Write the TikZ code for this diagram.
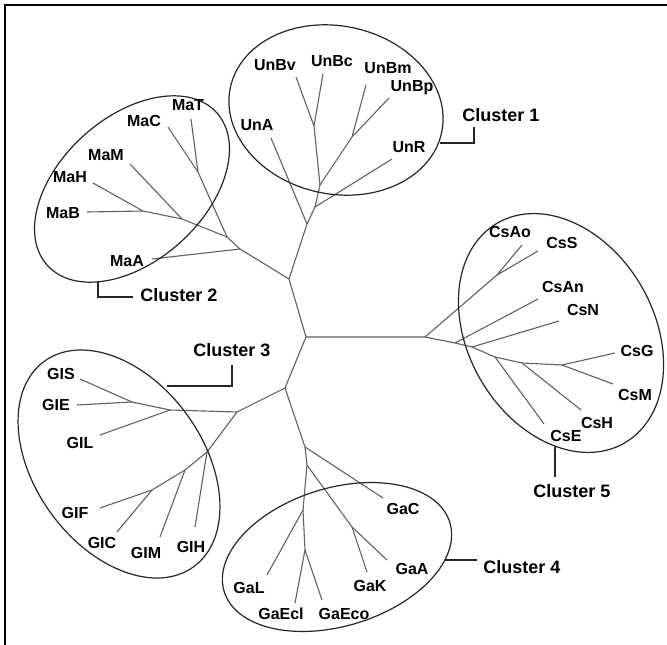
\documentclass[tikz,border=0pt]{standalone}
\usepackage{fontspec}
\setmainfont{Liberation Sans}
\begin{document}
\begin{tikzpicture}[x=1pt,y=-1pt,
  br/.style={draw=black!62, line width=1.1pt},
  ell/.style={draw=black!85, line width=1.2pt},
  con/.style={draw=black!85, line width=1.2pt},
  lab/.style={font=\bfseries\fontsize{16}{16}\selectfont, inner sep=0pt},
  clab/.style={font=\bfseries\fontsize{18}{18}\selectfont, inner sep=0pt}]
\useasboundingbox (0,0) rectangle (667,645);
\fill[white] (0,0) rectangle (667,645);
\draw[line width=2pt] (5,645) -- (5,5) -- (667,5);

% ---------- core ----------
\coordinate (c0) at (306,337);
\coordinate (jU) at (289,279);
\coordinate (jL) at (285,388);
% ---------- Un ----------
\coordinate (u1) at (307,224);
\coordinate (u2) at (315,207);
\coordinate (u3) at (320,185);
\coordinate (u4) at (314,126);
\coordinate (u5) at (352,137);
\coordinate (tUnBv) at (296,77);
\coordinate (tUnBc) at (323,74);
\coordinate (tUnBm) at (366,85);
\coordinate (tUnBp) at (389,98);
\coordinate (tUnA) at (271,138);
\coordinate (tUnR) at (392,159);
% ---------- Ma ----------
\coordinate (m4) at (240,249);
\coordinate (m3) at (227,237);
\coordinate (m2) at (182,219);
\coordinate (m1) at (143,211);
\coordinate (m5) at (198,172);
\coordinate (tMaT) at (191,119);
\coordinate (tMaC) at (168,127);
\coordinate (tMaM) at (130,164);
\coordinate (tMaH) at (93,183);
\coordinate (tMaB) at (87,212);
\coordinate (tMaA) at (152,259);
% ---------- Cs ----------
\coordinate (s0) at (425,337);
\coordinate (s1) at (497,275);
\coordinate (s2) at (455,343);
\coordinate (s3) at (472,347);
\coordinate (s4) at (495,357);
\coordinate (s5) at (522,363);
\coordinate (s6) at (562,365);
\coordinate (tCsAo) at (522,245);
\coordinate (tCsS) at (538,251);
\coordinate (tCsAn) at (538,299);
\coordinate (tCsN) at (559,321);
\coordinate (tCsE) at (544,424);
\coordinate (tCsH) at (581,410);
\coordinate (tCsG) at (615,353);
\coordinate (tCsM) at (613,384);
% ---------- Gl ----------
\coordinate (g0) at (237,412);
\coordinate (g1) at (170,410);
\coordinate (g2) at (132,402);
\coordinate (g3) at (207,452);
\coordinate (g4) at (185,470);
\coordinate (g5) at (152,490);
\coordinate (tGIS) at (80,379);
\coordinate (tGIE) at (77,405);
\coordinate (tGIL) at (100,435);
\coordinate (tGIF) at (100,508);
\coordinate (tGIC) at (117,532);
\coordinate (tGIM) at (160,537);
\coordinate (tGIH) at (195,527);
% ---------- Ga ----------
\coordinate (a1) at (305,447);
\coordinate (a2) at (307,465);
\coordinate (a3) at (303,510);
\coordinate (a4) at (305,550);
\coordinate (a5) at (352,527);
\coordinate (tGaC) at (383,498);
\coordinate (tGaK) at (367,572);
\coordinate (tGaA) at (387,560);
\coordinate (tGaL) at (267,575);
\coordinate (tGaEcl) at (295,603);
\coordinate (tGaEco) at (322,600);

% ---------- branches ----------
\draw[br] (jU) -- (c0) -- (s0);
\draw[br] (c0) -- (jL);
% Un
\draw[br] (jU) -- (u1) -- (u2) -- (u3) -- (u4) -- (tUnBv);
\draw[br] (u4) -- (tUnBc);
\draw[br] (u3) -- (u5) -- (tUnBm);
\draw[br] (u5) -- (tUnBp);
\draw[br] (u2) -- (tUnR);
\draw[br] (u1) -- (tUnA);
% Ma
\draw[br] (jU) -- (m4) -- (m3) -- (m2) -- (m1) -- (tMaB);
\draw[br] (m1) -- (tMaH);
\draw[br] (m2) -- (tMaM);
\draw[br] (m3) -- (m5) -- (tMaT);
\draw[br] (m5) -- (tMaC);
\draw[br] (m4) -- (tMaA);
% Cs
\draw[br] (s0) -- (s1) -- (tCsAo);
\draw[br] (s1) -- (tCsS);
\draw[br] (s0) -- (s2) -- (s3) -- (s4) -- (s5) -- (s6) -- (tCsG);
\draw[br] (s6) -- (tCsM);
\draw[br] (s2) -- (tCsAn);
\draw[br] (s3) -- (tCsN);
\draw[br] (s4) -- (tCsE);
\draw[br] (s5) -- (tCsH);
% Gl
\draw[br] (jL) -- (g0) -- (g1) -- (g2) -- (tGIE);
\draw[br] (g2) -- (tGIS);
\draw[br] (g1) -- (tGIL);
\draw[br] (g0) -- (g3) -- (g4) -- (g5) -- (tGIF);
\draw[br] (g5) -- (tGIC);
\draw[br] (g4) -- (tGIM);
\draw[br] (g3) -- (tGIH);
% Ga
\draw[br] (jL) -- (a1) -- (a2) -- (a3) -- (a4) -- (tGaEcl);
\draw[br] (a4) -- (tGaEco);
\draw[br] (a3) -- (tGaL);
\draw[br] (a1) -- (tGaC);
\draw[br] (a2) -- (a5) -- (tGaK);
\draw[br] (a5) -- (tGaA);

% ---------- ellipses ----------
\draw[ell, rotate around={-12:(336,110)}] (336,110) ellipse [x radius=108, y radius=84];
\draw[ell, rotate around={42:(132,189)}] (132,189) ellipse [x radius=114, y radius=72];
\draw[ell, rotate around={-54:(119,464)}] (119,464) ellipse [x radius=127, y radius=84];
\draw[ell, rotate around={17:(337,557)}] (337,557) ellipse [x radius=118, y radius=69];
\draw[ell, rotate around={-60:(561,333)}] (561,333) ellipse [x radius=127, y radius=93];

% ---------- leaf labels ----------
\node[lab] (UnBv) at (275,65) {UnBv};
\node[lab] (UnBc) at (332,61) {UnBc};
\node[lab] (UnBm) at (388,68) {UnBm};
\node[lab] (UnBp) at (412,88) {UnBp};
\node[lab] (UnA) at (257,125) {UnA};
\node[lab] (UnR) at (409,147) {UnR};
\node[lab] (MaT) at (188,105) {MaT};
\node[lab] (MaC) at (144,121) {MaC};
\node[lab] (MaM) at (106,155) {MaM};
\node[lab] (MaH) at (70,177) {MaH};
\node[lab] (MaB) at (63,213) {MaB};
\node[lab] (MaA) at (127,261) {MaA};
\node[lab] (CsAo) at (510,232) {CsAo};
\node[lab] (CsS) at (562,243) {CsS};
\node[lab] (CsAn) at (563,287) {CsAn};
\node[lab] (CsN) at (583,310) {CsN};
\node[lab] (CsG) at (637,351) {CsG};
\node[lab] (CsM) at (635,395) {CsM};
\node[lab] (CsH) at (597,423) {CsH};
\node[lab] (CsE) at (566,436) {CsE};
\node[lab] (GIS) at (61,374) {GIS};
\node[lab] (GIE) at (56,405) {GIE};
\node[lab] (GIL) at (80,443) {GIL};
\node[lab] (GIF) at (75,513) {GIF};
\node[lab] (GIC) at (102,543) {GIC};
\node[lab] (GIM) at (146,553) {GIM};
\node[lab] (GIH) at (191,547) {GIH};
\node[lab] (GaC) at (403,509) {GaC};
\node[lab] (GaA) at (412,569) {GaA};
\node[lab] (GaK) at (370,586) {GaK};
\node[lab] (GaL) at (249,588) {GaL};
\node[lab] (GaEcl) at (281,614) {GaEcl};
\node[lab] (GaEco) at (344,614) {GaEco};

% ---------- cluster labels ----------
\node[clab] (cl1) at (501,115) {Cluster 1};
\node[clab] (cl2) at (179,295) {Cluster 2};
\node[clab] (cl3) at (232,350) {Cluster 3};
\node[clab] (cl4) at (522,567) {Cluster 4};
\node[clab] (cl5) at (572,491) {Cluster 5};

\coordinate (e1) at (440,143);
\coordinate (k1) at (474,143);
\coordinate (k1e) at (474,127);
\coordinate (e2) at (98,282);
\coordinate (k2) at (98,297);
\coordinate (k2e) at (133,297);
\coordinate (e3) at (167,386);
\coordinate (k3) at (232,386);
\coordinate (k3e) at (232,365);
\coordinate (e4) at (445,560);
\coordinate (k4e) at (477,560);
\coordinate (e5) at (555,447);
\coordinate (k5e) at (555,477);
\draw[con] (e1) -- (k1) -- (k1e);
\draw[con] (e2) -- (k2) -- (k2e);
\draw[con] (e3) -- (k3) -- (k3e);
\draw[con] (e4) -- (k4e);
\draw[con] (e5) -- (k5e);
\end{tikzpicture}
\end{document}
